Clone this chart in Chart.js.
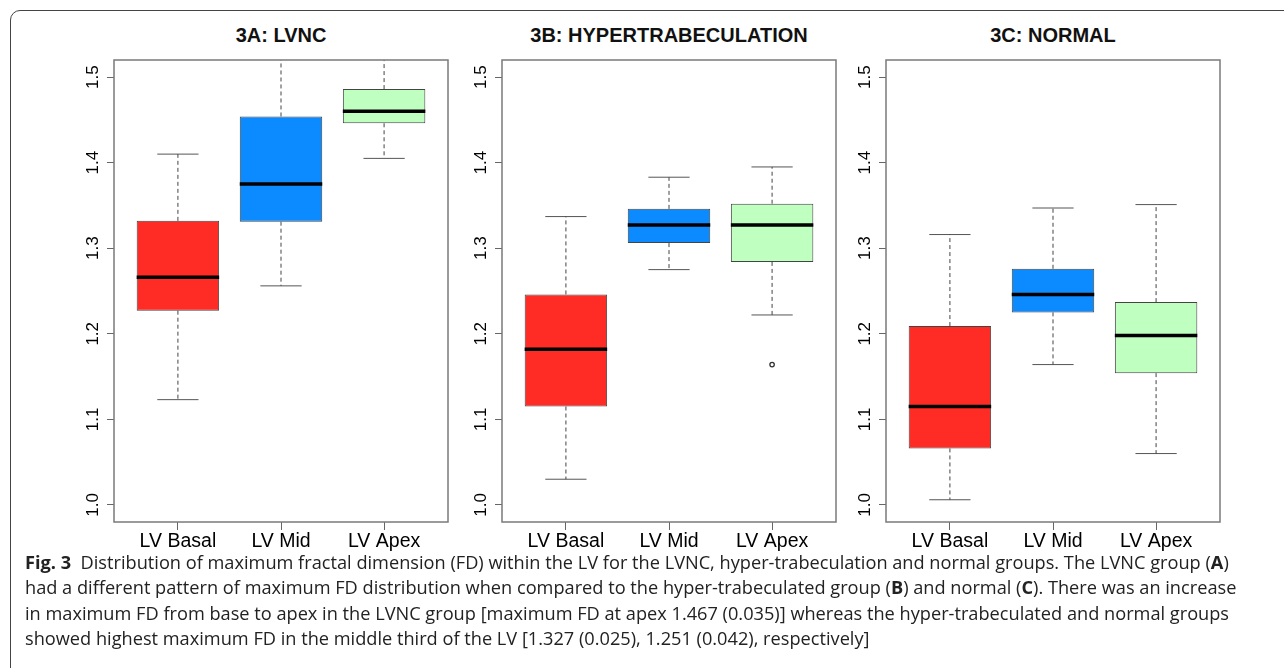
<!DOCTYPE html>
<html>
<head>
<meta charset="utf-8">
<script src="https://cdn.jsdelivr.net/npm/chart.js@4.4.1/dist/chart.umd.min.js"></script>
<style>
  html, body { margin: 0; padding: 0; background: #fff; }
  body { width: 1284px; height: 668px; position: relative; overflow: hidden; }
  .frame { position: absolute; left: 10px; top: 10px; width: 1300px; height: 700px;
           border: 1.5px solid #444; border-radius: 10px; box-sizing: border-box; }
  .panel { position: absolute; top: 0; width: 460px; height: 564px; }
  .title { position: absolute; top: 23.5px; font: bold 20px "Liberation Sans", Arial, sans-serif;
           color: #111; transform: translateX(-50%); white-space: nowrap; }
  .caption { position: absolute; left: 25px; top: 550px; font: 18.2px "Open Sans", sans-serif;
             color: #222; line-height: 25.3px; }
  .caption div { white-space: nowrap; }
</style>
</head>
<body>
<div class="frame"></div>

<div class="title" style="left:281px">3A: LVNC</div>
<div class="title" style="left:669px">3B: HYPERTRABECULATION</div>
<div class="title" style="left:1053px">3C: NORMAL</div>

<div class="panel" style="left:0px"><canvas id="chart-a"></canvas></div>
<div class="panel" style="left:388px"><canvas id="chart-b"></canvas></div>
<div class="panel" style="left:772px"><canvas id="chart-c"></canvas></div>

<div class="caption">
  <div><b>Fig. 3</b>&nbsp; Distribution of maximum fractal dimension (FD) within the LV for the LVNC, hyper-trabeculation and normal groups. The LVNC group (<b>A</b>)</div>
  <div>had a different pattern of maximum FD distribution when compared to the hyper-trabeculated group (<b>B</b>) and normal (<b>C</b>). There was an increase</div>
  <div>in maximum FD from base to apex in the LVNC group [maximum FD at apex 1.467 (0.035)] whereas the hyper-trabeculated and normal groups</div>
  <div>showed highest maximum FD in the middle third of the LV [1.327 (0.025), 1.251 (0.042), respectively]</div>
</div>

<script>
const categories = ['LV Basal', 'LV Mid', 'LV Apex'];
const yTicks = [1.0, 1.1, 1.2, 1.3, 1.4, 1.5];
const boxColors = ['#FF2B25', '#0B8BFF', '#BFFFBF'];

// 3A: LVNC
const lvncMin = [1.123, 1.256, 1.405];
const lvncQ1 = [1.227, 1.331, 1.446];
const lvncMedian = [1.266, 1.375, 1.460];
const lvncQ3 = [1.332, 1.454, 1.486];
const lvncMax = [1.410, 1.560, 1.535];
const lvncOutliers = [[], [], []];

// 3B: HYPERTRABECULATION
const hyperMin = [1.030, 1.275, 1.222];
const hyperQ1 = [1.115, 1.306, 1.284];
const hyperMedian = [1.182, 1.327, 1.327];
const hyperQ3 = [1.246, 1.346, 1.352];
const hyperMax = [1.337, 1.383, 1.395];
const hyperOutliers = [[], [], [1.164]];

// 3C: NORMAL
const normalMin = [1.006, 1.164, 1.060];
const normalQ1 = [1.066, 1.225, 1.154];
const normalMedian = [1.115, 1.246, 1.198];
const normalQ3 = [1.209, 1.276, 1.237];
const normalMax = [1.316, 1.347, 1.351];
const normalOutliers = [[], [], []];

const font = '"Liberation Sans", Arial, sans-serif';
const axisGrey = '#666';
const edgeGrey = '#444';

// caixa do gráfico (como o box() do R)
const framePlugin = {
  id: 'frame',
  afterDraw(chart) {
    const { ctx, chartArea: a } = chart;
    ctx.save();
    ctx.strokeStyle = '#7a7a7a';
    ctx.lineWidth = 1.5;
    ctx.strokeRect(a.left, a.top, a.right - a.left, a.bottom - a.top);
    ctx.restore();
  }
};

// segmentos separados por pontos nulos
function segments(list) {
  const pts = [];
  for (const [x0, y0, x1, y1] of list) {
    pts.push({ x: x0, y: y0 }, { x: x1, y: y1 }, { x: x1, y: null });
  }
  return pts;
}

function boxplot(id, min, q1, med, q3, max, outliers) {
  const idx = categories.map((c, i) => i + 1);

  const whiskers = segments(idx.flatMap((x, i) => [[x, q3[i], x, max[i]], [x, q1[i], x, min[i]]]));
  const caps = segments(idx.flatMap((x, i) => [[x - 0.2, max[i], x + 0.2, max[i]], [x - 0.2, min[i], x + 0.2, min[i]]]));
  const medians = segments(idx.map((x, i) => [x - 0.4, med[i], x + 0.4, med[i]]));
  const outPts = idx.flatMap((x, i) => outliers[i].map(v => ({ x, y: v })));

  return new Chart(document.getElementById(id), {
    type: 'bar',
    data: {
      datasets: [
        {
          type: 'line', label: 'mediana', data: medians, order: 1,
          borderColor: '#000', borderWidth: 3.5, pointRadius: 0, spanGaps: false, borderCapStyle: 'butt'
        },
        {
          type: 'line', label: 'outliers', data: outPts, order: 1, showLine: false,
          pointRadius: 2.2, pointBorderWidth: 1.3, pointBorderColor: '#333', pointBackgroundColor: '#fff'
        },
        {
          type: 'line', label: 'bigodes', data: whiskers, order: 2,
          borderColor: edgeGrey, borderWidth: 1, borderDash: [4, 3], pointRadius: 0, spanGaps: false
        },
        {
          type: 'line', label: 'limites', data: caps, order: 2,
          borderColor: '#555', borderWidth: 1, pointRadius: 0, spanGaps: false
        },
        {
          type: 'bar', label: 'caixa', order: 3,
          data: idx.map((x, i) => ({ x, y: [q1[i], q3[i]] })),
          backgroundColor: boxColors, borderColor: edgeGrey, borderWidth: 1, borderSkipped: false,
          barPercentage: 1, categoryPercentage: 0.8
        }
      ]
    },
    options: {
      responsive: true,
      maintainAspectRatio: false,
      animation: false,
      layout: { padding: { left: 40, right: 12, top: 60, bottom: 0 } },
      plugins: { legend: { display: false }, tooltip: { enabled: false } },
      scales: {
        x: {
          type: 'linear', min: 0.38, max: 3.62, offset: false,
          afterBuildTicks: s => { s.ticks = idx.map(v => ({ value: v })); },
          afterFit: s => { s.height = 42; },
          ticks: { callback: (v, i) => categories[i], color: '#000', font: { family: font, size: 19.5 }, padding: 0, maxRotation: 0, autoSkip: false },
          grid: { drawOnChartArea: false, drawTicks: true, tickLength: 8, color: axisGrey, offset: false },
          border: { display: false }
        },
        y: {
          min: 0.98, max: 1.52,
          afterBuildTicks: s => { s.ticks = yTicks.map(v => ({ value: v })); },
          afterFit: s => { s.width = 74; },
          ticks: { callback: v => v.toFixed(1), color: '#000', font: { family: font, size: 17 }, minRotation: 90, maxRotation: 90, crossAlign: 'center', padding: 2, autoSkip: false },
          grid: { drawOnChartArea: false, drawTicks: true, tickLength: 7, color: axisGrey },
          border: { display: false }
        }
      }
    },
    plugins: [framePlugin]
  });
}

boxplot('chart-a', lvncMin, lvncQ1, lvncMedian, lvncQ3, lvncMax, lvncOutliers);
boxplot('chart-b', hyperMin, hyperQ1, hyperMedian, hyperQ3, hyperMax, hyperOutliers);
boxplot('chart-c', normalMin, normalQ1, normalMedian, normalQ3, normalMax, normalOutliers);
</script>
</body>
</html>
